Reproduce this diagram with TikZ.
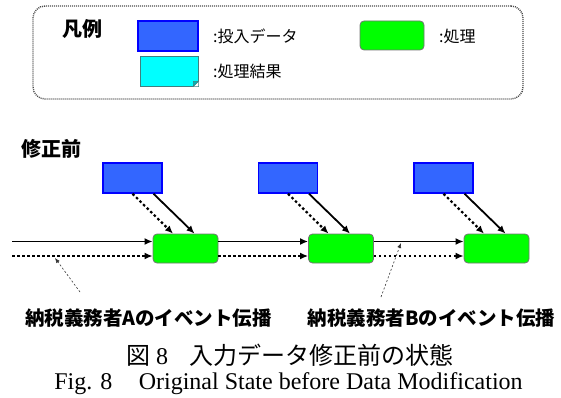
\documentclass[tikz,border=0pt]{standalone}
\usepackage{fontspec}
\setmainfont{Liberation Serif}
\newfontfamily\jpfont{Noto Sans CJK JP}
\usepackage{xcolor}
\usepackage{tikz}
\usetikzlibrary{shapes,arrows,arrows.meta,positioning}
\definecolor{datablue}{HTML}{3366FF}
\definecolor{procgreen}{HTML}{00FF00}
\definecolor{resultcyan}{HTML}{00FFFF}
\definecolor{resultedge}{HTML}{3F7F7F}

\begin{document}
\begin{tikzpicture}[x=1pt, y=-1pt, node distance=155.5pt, auto]
    \tikzstyle{datablock} = [rectangle, draw=blue, fill=datablue, line width=1.5pt,
        minimum width=59pt, minimum height=30pt, inner sep=0pt]
    \tikzstyle{process} = [rectangle, draw=black!55, fill=procgreen, line width=0.8pt,
        rounded corners=4pt, minimum width=65pt, minimum height=29pt, inner sep=0pt]
    \tikzstyle{result} = [rectangle, draw=resultedge, fill=resultcyan, line width=0.8pt,
        minimum width=58pt, minimum height=30pt, inner sep=0pt]
    \tikzstyle{legendbox} = [rectangle, draw=black!70, line width=1.4pt, dash pattern=on 1pt off 1pt,
        rounded corners=12pt, minimum width=490pt, minimum height=93pt, inner sep=0pt]
    \tikzstyle{legendtext} = [anchor=west, inner sep=0pt, font=\jpfont\fontsize{16}{18}\selectfont]
    \tikzstyle{heading} = [inner sep=0pt, font=\jpfont\bfseries\fontsize{20}{22}\selectfont]
    \tikzstyle{line} = [draw, line width=1.8pt, -{Latex[length=8pt,width=7pt]}]
    \tikzstyle{dotline} = [draw, line width=2.2pt, dash pattern=on 2.5pt off 2.5pt,
        -{Latex[length=8pt,width=7pt]}]
    \tikzstyle{note} = [draw, black!80, line width=0.6pt, dash pattern=on 2pt off 2pt,
        -{Latex[length=5pt,width=4pt]}]

    \useasboundingbox (0,0) rectangle (561,398);

    \node [legendbox] (legend) at (278,52.5) {};
    \node [heading] (legtitle) at (82.5,29) {凡例};
    \node [datablock, minimum width=60pt] (legdata) at (168,36) {};
    \node [legendtext] (legdatatext) at (213,36) {:投入データ};
    \node [process, minimum width=64pt] (legproc) at (392,35.5) {};
    \node [legendtext] (legproctext) at (439,36) {:処理};
    \node [result] (legres) at (169,71) {};
    \fill [white] (legres.south east) -- ++(-5,0) -- ++(5,-5) -- cycle;
    \draw [resultedge, fill=resultcyan!70!black, line width=0.6pt]
        ([xshift=-5pt]legres.south east) -- ([xshift=-5pt,yshift=5pt]legres.south east)
        -- ([yshift=5pt]legres.south east) -- cycle;
    \node [legendtext] (legrestext) at (213,71) {:処理結果};

    \node [heading] (before) at (51,149) {修正前};

    \node [datablock] (in1) at (132.5,178) {};
    \node [datablock, right of=in1] (in2) {};
    \node [datablock, right of=in2] (in3) {};
    \node [process] (proc1) at (185.5,248.5) {};
    \node [process, right of=proc1] (proc2) {};
    \node [process, right of=proc2] (proc3) {};
    \coordinate (start) at (12,248.5);

    \path [line] ([yshift=7pt]start) -- ([yshift=7pt]proc1.west);
    \path [dotline] ([yshift=-7.5pt]start) -- ([yshift=-7.5pt]proc1.west);
    \path [line] ([yshift=7pt]proc1.east) -- ([yshift=7pt]proc2.west);
    \path [dotline] ([yshift=-7.5pt]proc1.east) -- ([yshift=-7.5pt]proc2.west);
    \path [line] ([yshift=7pt]proc2.east) -- ([yshift=7pt]proc3.west);
    \path [dotline] ([yshift=-7.5pt]proc2.east) -- ([yshift=-7.5pt]proc3.west);
    \foreach \i in {1,2,3} {
        \path [dotline] (in\i.south) -- ([xshift=-12.5pt]proc\i.north);
        \path [line] ([xshift=21pt]in\i.south) -- ([xshift=9pt]proc\i.north);
    }

    \node [heading, font=\jpfont\bfseries\fontsize{19.5}{22}\selectfont] (labelA) at (148.5,318) {納税義務者Aのイベント伝播};
    \node [heading, font=\jpfont\bfseries\fontsize{19.5}{22}\selectfont] (labelB) at (431.5,318) {納税義務者Bのイベント伝播};
    \coordinate (footA) at (80,292);
    \coordinate (tipA) at (55,258);
    \coordinate (footB) at (381,297);
    \coordinate (tipB) at (401,243);
    \path [note] (footA) -- (tipA);
    \path [note] (footB) -- (tipB);

    \node [inner sep=0pt, font=\fontsize{24}{26}\selectfont] (caption) at (290,355)
        {{\jpfont 図} 8\hspace{0.9em}{\jpfont 入力データ修正前の状態}};
    \node [inner sep=0pt, anchor=base, font=\fontsize{24}{26}\selectfont] (captionen) at (288.5,389)
        {Fig. 8\hspace{1.1em}Original State before Data Modification};
\end{tikzpicture}
\end{document}
